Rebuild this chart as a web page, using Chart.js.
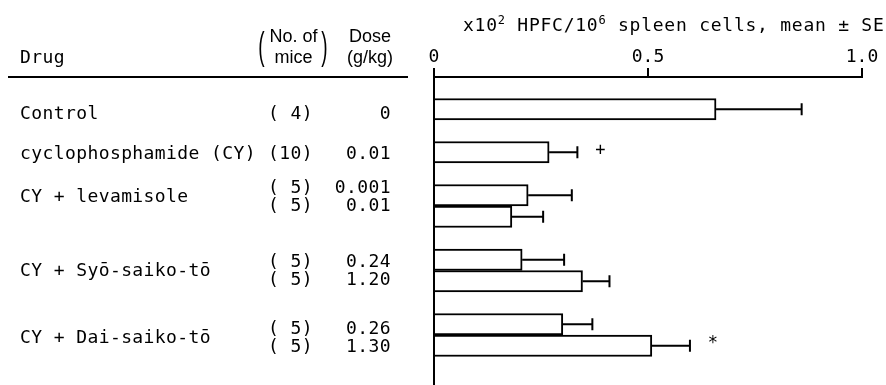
<!DOCTYPE html>
<html>
<head>
<meta charset="utf-8">
<script src="https://cdn.jsdelivr.net/npm/chart.js@4.4.1/dist/chart.umd.min.js"></script>
<style>
  html, body { margin:0; padding:0; background:#fff; }
  body { width:886px; height:385px; position:relative; overflow:hidden; color:#000; }
  #box { position:absolute; left:0; top:0; width:886px; height:385px; }
  .mono { position:absolute; font-family:'DejaVu Sans Mono', monospace; font-size:18px; letter-spacing:0.4px; line-height:20px; white-space:pre; }
  .sans { position:absolute; font-family:'Liberation Sans', Arial, sans-serif; font-size:18px; line-height:21px; white-space:pre; text-align:center; }
  .paren { position:absolute; font-family:'Liberation Sans', Arial, sans-serif; font-size:38px; line-height:38px; transform:scaleX(0.5); }
  #rule { position:absolute; left:8px; top:76px; width:400px; height:2px; background:#000; }
  #xTitle { left:463px; top:15px; letter-spacing:0.75px; }
  #xTitle sup { font-size:12px; vertical-align:0; position:relative; top:-7px; }
</style>
</head>
<body>
<div id="box"><canvas id="chart"></canvas></div>
<div class="mono" style="left:20px;top:47px">Drug</div>
<div class="paren" style="left:255px;top:27px">(</div>
<div class="sans" style="left:263px;top:26px;width:61px">No. of
mice</div>
<div class="paren" style="left:318px;top:27px">)</div>
<div class="sans" style="left:338px;top:26px;width:64px">Dose
(g/kg)</div>
<div id="rule"></div>
<div id="xTitle" class="mono">x10<sup>2</sup> HPFC/10<sup>6</sup> spleen cells, mean ± SE</div>
<div id="table"></div>
<script>
const $ = id => document.getElementById(id);

const groupNames = ['Control', 'cyclophosphamide (CY)', 'CY + levamisole', 'CY + Syō-saiko-tō', 'CY + Dai-saiko-tō'];
const groupOf = [0, 1, 2, 2, 3, 3, 4, 4];
const mice = [4, 10, 5, 5, 5, 5, 5, 5];
const doses = ['0', '0.01', '0.001', '0.01', '0.24', '1.20', '0.26', '1.30'];
const means = [0.659, 0.269, 0.220, 0.182, 0.206, 0.347, 0.301, 0.509];
const errors = [0.200, 0.066, 0.102, 0.073, 0.098, 0.063, 0.069, 0.089];
const marks = ['', '+', '', '', '', '', '', '*'];
const xTicks = [0, 0.5, 1.0];
const xTickLabels = ['0', '0.5', '1.0'];

// one blank row before each group and one at the end
const rowLabels = [], rowMeans = [], rowErrors = [], rowMarks = [], rowBar = [];
let prev = -1;
groupOf.forEach((g, i) => {
  if (g !== prev) { rowLabels.push(''); rowMeans.push(null); rowErrors.push(null); rowMarks.push(''); rowBar.push(-1); }
  rowLabels.push(`${groupNames[g]} ${doses[i]}`);
  rowMeans.push(means[i]); rowErrors.push(errors[i]); rowMarks.push(marks[i]); rowBar.push(i);
  prev = g;
});
rowLabels.push(''); rowMeans.push(null); rowErrors.push(null); rowMarks.push(''); rowBar.push(-1);

const errorBars = {
  id: 'errorBars',
  afterDatasetsDraw(chart) {
    const {ctx, scales: {x}} = chart;
    ctx.save();
    ctx.strokeStyle = '#000';
    ctx.fillStyle = '#000';
    ctx.lineWidth = 2;
    ctx.font = '17px "DejaVu Sans Mono"';
    ctx.textAlign = 'center';
    ctx.textBaseline = 'middle';
    chart.getDatasetMeta(0).data.forEach((bar, i) => {
      if (rowMeans[i] == null) return;
      const end = x.getPixelForValue(rowMeans[i] + rowErrors[i]);
      ctx.beginPath();
      ctx.moveTo(bar.x, bar.y);
      ctx.lineTo(end, bar.y);
      ctx.moveTo(end, bar.y - 6);
      ctx.lineTo(end, bar.y + 6);
      ctx.stroke();
      if (rowMarks[i]) ctx.fillText(rowMarks[i], end + 23, bar.y - 2);
    });
    ctx.restore();
  },
  afterDraw(chart) {
    // axis line runs on past the last row
    const {ctx, chartArea} = chart;
    ctx.save();
    ctx.strokeStyle = '#000';
    ctx.lineWidth = 2;
    ctx.beginPath();
    ctx.moveTo(chartArea.left, chartArea.bottom);
    ctx.lineTo(chartArea.left, chart.height);
    ctx.stroke();
    ctx.restore();
  }
};

const chart = new Chart($('chart'), {
  type: 'bar',
  data: {
    labels: rowLabels,
    datasets: [{
      data: rowMeans,
      backgroundColor: '#fff',
      borderColor: '#000',
      borderWidth: 2,
      borderSkipped: 'start',
      barPercentage: 1,
      categoryPercentage: 1
    }]
  },
  options: {
    indexAxis: 'y',
    responsive: true,
    maintainAspectRatio: false,
    animation: false,
    layout: {padding: {left: 434, right: 24, top: 0, bottom: 7}},
    plugins: {legend: {display: false}, tooltip: {enabled: false}},
    scales: {
      x: {
        position: 'top',
        min: 0,
        max: 1,
        afterBuildTicks: s => { s.ticks = xTicks.map(v => ({value: v})); },
        afterFit: s => { s.height = 77; },
        grid: {drawOnChartArea: false, drawTicks: true, tickLength: 9, color: '#000', lineWidth: 2},
        border: {display: true, color: '#000', width: 2},
        ticks: {
          padding: 0,
          color: '#000',
          maxRotation: 0,
          autoSkip: false,
          font: {family: 'DejaVu Sans Mono', size: 18},
          callback: (v, i) => xTickLabels[i]
        }
      },
      y: {
        afterFit: s => { s.width = 0; },
        grid: {display: false},
        border: {display: true, color: '#000', width: 2},
        ticks: {display: false}
      }
    }
  },
  plugins: [errorBars]
});

// left-hand table, placed on the bar rows
function addText(cls, text, style) {
  const d = document.createElement('div');
  d.className = cls;
  d.textContent = text;
  Object.assign(d.style, style);
  $('table').appendChild(d);
}

const yScale = chart.scales.y;
const textNudge = [4, 1, -10, -1, 2];
const lineGap = 18;
groupNames.forEach((name, g) => {
  const bars = groupOf.map((gg, i) => gg === g ? i : -1).filter(i => i >= 0);
  const centers = bars.map(i => yScale.getPixelForValue(rowBar.indexOf(i)));
  const mid = centers.reduce((a, b) => a + b, 0) / centers.length + textNudge[g];
  addText('mono', name, {left: '20px', top: (mid - 10) + 'px'});
  bars.forEach((i, k) => {
    const y = mid + (k - (bars.length - 1) / 2) * lineGap;
    addText('mono', `(${String(mice[i]).padStart(2, ' ')})`, {left: '268px', top: (y - 10) + 'px'});
    addText('mono', doses[i], {right: '495px', top: (y - 10) + 'px', textAlign: 'right'});
  });
});
</script>
</body>
</html>
